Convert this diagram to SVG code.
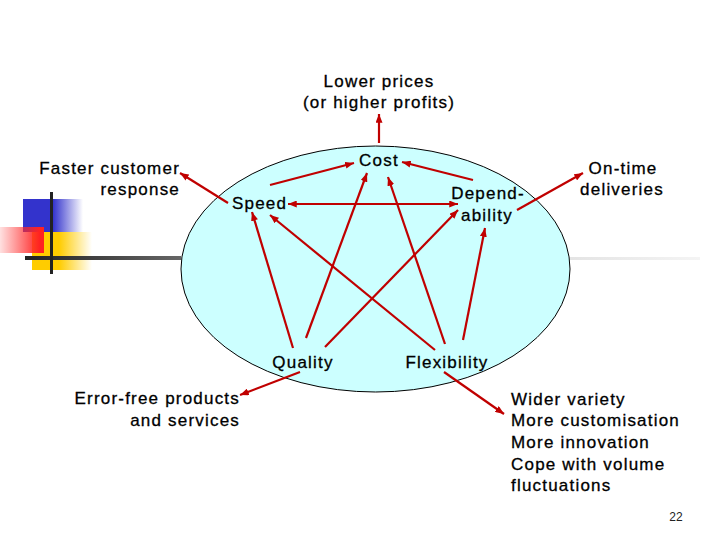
<svg xmlns="http://www.w3.org/2000/svg" width="720" height="540" viewBox="0 0 720 540">
<style>
text{font-family:"Liberation Sans",Arial,sans-serif;font-size:17px;letter-spacing:1.2px;fill:#000;stroke:#000;stroke-width:0.3px}
.m{text-anchor:middle}.e{text-anchor:end}
.a{stroke:#c00000;stroke-width:2.2;fill:none;marker-end:url(#ah)}
.p{font-size:12px;letter-spacing:0;fill:#222;stroke:none}
</style>
<defs>
<marker id="ah" viewBox="0 0 10 8" refX="10" refY="4" markerWidth="9" markerHeight="7" markerUnits="userSpaceOnUse" orient="auto-start-reverse">
<path d="M0,0 L10,4 L0,8 z" fill="#c00000"/>
</marker>
<linearGradient id="gb" x1="0" x2="1" y1="0" y2="0"><stop offset="0.5" stop-color="#3333cc"/><stop offset="1" stop-color="#3333cc" stop-opacity="0"/></linearGradient>
<linearGradient id="gy" x1="0" x2="1" y1="0" y2="0"><stop offset="0.45" stop-color="#ffcc00"/><stop offset="1" stop-color="#ffcc00" stop-opacity="0"/></linearGradient>
<linearGradient id="gr" x1="0" x2="1" y1="0" y2="0"><stop offset="0" stop-color="#ff3333" stop-opacity="0.15"/><stop offset="0.9" stop-color="#ff2222"/></linearGradient>
<linearGradient id="gl" x1="0" x2="1" y1="0" y2="0"><stop offset="0" stop-color="#222"/><stop offset="1" stop-color="#666"/></linearGradient>
<linearGradient id="gl2" x1="0" x2="1" y1="0" y2="0"><stop offset="0" stop-color="#e4e4e4"/><stop offset="1" stop-color="#f4f4f4"/></linearGradient>
</defs>
<g id="decoration">
<rect x="23" y="199" width="60" height="33" fill="url(#gb)"/>
<rect x="32" y="232" width="60" height="38" fill="url(#gy)"/>
<rect x="0" y="227" width="44" height="26" fill="url(#gr)"/>
<rect x="25" y="256" width="156" height="4" fill="url(#gl)"/>
<rect x="570" y="257" width="130" height="3" fill="url(#gl2)"/>
<rect x="50" y="192" width="3" height="82" fill="#222"/>
</g>
<g id="ellipse">
<ellipse cx="375.5" cy="269" rx="194.5" ry="123" fill="#ccffff" stroke="#000" stroke-width="1"/>
</g>
<g id="connectors">
<line class="a" x1="379" y1="143" x2="379" y2="114"/>
<line class="a" x1="270" y1="185" x2="354" y2="163"/>
<line class="a" x1="473" y1="180" x2="402" y2="162"/>
<line class="a" x1="288" y1="204" x2="458" y2="204" style="marker-start:url(#ah)"/>
<line class="a" x1="293" y1="348" x2="252" y2="212"/>
<line class="a" x1="306" y1="338" x2="367" y2="173"/>
<line class="a" x1="325" y1="347" x2="458" y2="210"/>
<line class="a" x1="435" y1="350" x2="270" y2="215"/>
<line class="a" x1="445" y1="344" x2="388" y2="177"/>
<line class="a" x1="463" y1="340" x2="485" y2="228"/>
<line class="a" x1="228" y1="203" x2="180" y2="173"/>
<line class="a" x1="517" y1="210" x2="583" y2="173"/>
<line class="a" x1="300" y1="372" x2="240" y2="395"/>
<line class="a" x1="444" y1="372" x2="504" y2="414"/>
</g>
<g id="lower-prices"><text class="m" x="379" y="87">Lower prices</text><text class="m" x="379" y="108">(or higher profits)</text></g>
<g id="cost"><text class="m" x="379" y="166">Cost</text></g>
<g id="faster"><text class="e" x="180" y="174">Faster customer</text><text class="e" x="180" y="195">response</text></g>
<g id="speed"><text x="232" y="209">Speed</text></g>
<g id="dependability"><text class="m" x="488" y="199">Depend-</text><text class="m" x="487" y="221">ability</text></g>
<g id="ontime"><text class="m" x="623" y="174">On-time</text><text class="m" x="622" y="195">deliveries</text></g>
<g id="quality"><text class="m" x="303" y="368">Quality</text></g>
<g id="flexibility"><text class="m" x="447" y="368">Flexibility</text></g>
<g id="errorfree"><text class="e" x="240" y="404">Error-free products</text><text class="e" x="240" y="426">and services</text></g>
<g id="wider"><text x="511" y="405">Wider variety</text><text x="511" y="426">More customisation</text><text x="511" y="448">More innovation</text><text x="511" y="470">Cope with volume</text><text x="511" y="491">fluctuations</text></g>
<g id="page"><text class="p m" x="676" y="521">22</text></g>
</svg>
